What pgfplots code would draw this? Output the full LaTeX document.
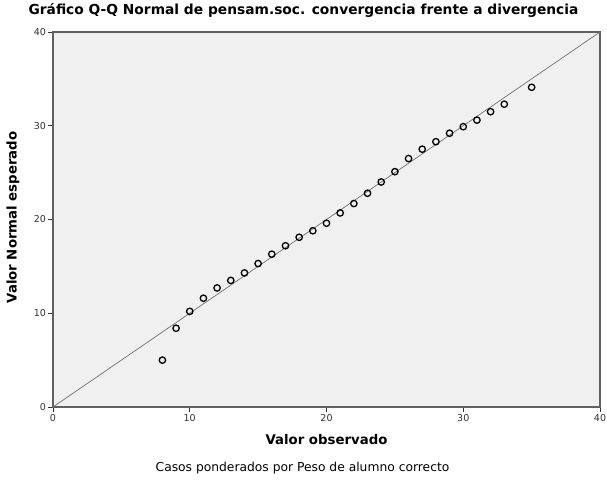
\documentclass[border=0pt]{standalone}
\usepackage{fontspec}
\setmainfont{DejaVu Sans}
\usepackage{pgfplots}
\pgfplotsset{compat=1.18}
\definecolor{panel}{HTML}{F0F0F0}
\definecolor{frame}{HTML}{606060}

\pgfplotstableread{
obs exp
8  5.0
9  8.4
10 10.2
11 11.6
12 12.7
13 13.5
14 14.3
15 15.3
16 16.3
17 17.2
18 18.1
19 18.8
20 19.6
21 20.7
22 21.7
23 22.8
24 24.0
25 25.1
26 26.5
27 27.5
28 28.3
29 29.2
30 29.9
31 30.6
32 31.5
33 32.3
35 34.1
}\qqdata

\begin{document}
\begin{tikzpicture}[x=1pt,y=1pt]
\path[use as bounding box] (-53,-74) rectangle (554,407);
\begin{axis}[
    at={(0,0)}, anchor=south west,
    scale only axis,
    width=547pt, height=375pt,
    xmin=0, xmax=40, ymin=0, ymax=40,
    xtick={0,10,20,30,40},
    ytick={0,10,20,30,40},
    axis background/.style={fill=panel},
    axis line style={frame, line width=1.2pt},
    tick style={black!80, line width=0.8pt},
    tick align=outside, tick pos=left,
    major tick length=5pt,
    ticklabel style={font=\fontsize{9.5}{11}\selectfont, text=black!80},
    xticklabel style={yshift=1pt},
    yticklabel style={xshift=1.5pt},
    /pgf/number format/assume math mode=true,
    xlabel={Valor observado},
    xlabel style={font=\bfseries\fontsize{13.3}{15}\selectfont,
        at={(rel axis cs:0.5,0)}, anchor=center, yshift=-33pt},
    ylabel={Valor Normal esperado},
    ylabel style={font=\bfseries\fontsize{13.3}{15}\selectfont,
        at={(rel axis cs:0,0.5)}, anchor=center, yshift=40pt, xshift=2pt},
    title={Gráfico Q-Q Normal de pensam.soc. convergencia frente a divergencia},
    title style={font=\bfseries\fontsize{13.8}{16}\selectfont,
        at={(rel axis cs:0.5,1)}, anchor=center, yshift=16pt, xshift=-23pt},
    clip=false,
]
\addplot[frame!90, line width=0.7pt] coordinates {(0,0) (40,40)};
\addplot[only marks, mark=o, mark size=3.2pt,
    mark options={black, line width=1.3pt}] table[x=obs, y=exp] {\qqdata};
\node[font=\fontsize{12.3}{14}\selectfont] at ([yshift=-61pt, xshift=-24pt]rel axis cs:0.5,0)
    {Casos ponderados por Peso de alumno correcto};
\end{axis}
\end{tikzpicture}
\end{document}
